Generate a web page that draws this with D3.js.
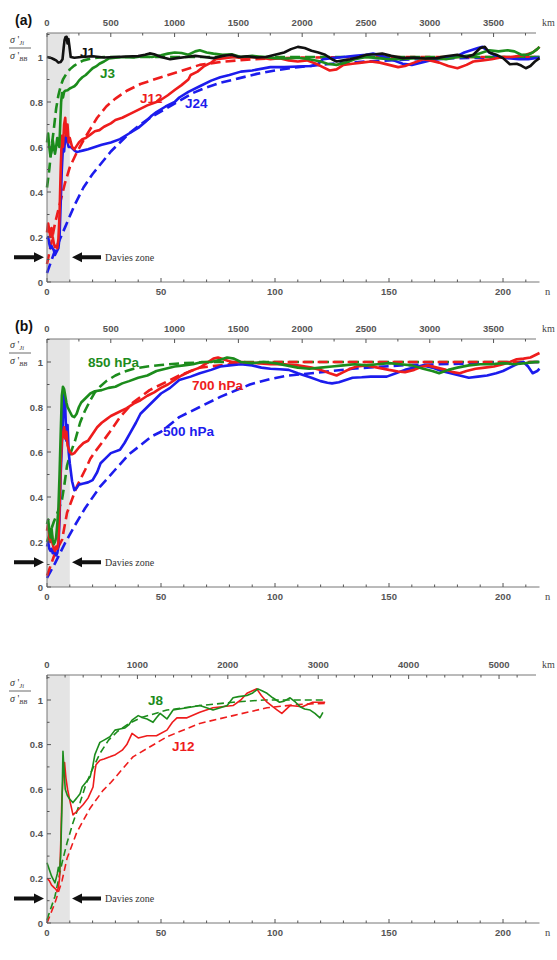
<!DOCTYPE html>
<html>
<head>
<meta charset="utf-8">
<script src="https://d3js.org/d3.v7.min.js"></script>
<style>
  body { margin: 0; background: #fff; }
  svg text { font-family: "Liberation Sans", Arial, sans-serif; }
</style>
</head>
<body>
<script>
// ---- data: [n, sigma ratio] ----

// panel (a)
var aJ1 = [[0,1.0],[1,0.998],[2,0.995],[3,0.99],[4,0.985],[5,0.975],[6,0.978],[6.8,0.99],[7.3,1.04],[7.7,1.075],[8.1,1.088],[8.6,1.09],[9,1.06],[9.4,1.08],[9.8,1.05],[10.4,1.0],[12,0.997],[15,1.0],[20,1.003],[25,0.998],[30,1.0],[35,1.002],[40,1.004],[43,1.01],[45,1.016],[47,1.012],[50,1.0],[54,0.99],[57,0.995],[61,1.0],[65,1.005],[69,1.0],[73,0.995],[77,1.005],[81,1.01],[84,1.0],[88,1.003],[92,0.998],[96,1.0],[100,1.01],[104,1.02],[107,1.035],[110,1.045],[113,1.04],[116,1.028],[119,1.02],[122,1.01],[125,0.99],[127,0.98],[130,0.985],[133,0.99],[137,1.0],[140,1.01],[144,1.012],[147,1.015],[151,1.005],[156,0.995],[161,0.998],[166,0.993],[171,0.995],[175,1.003],[180,1.01],[184,1.0],[187,1.01],[190,1.04],[192,1.045],[194,1.02],[197,1.01],[200,0.995],[203,0.968],[206,0.97],[208,0.962],[210,0.95],[212,0.96],[214,0.98],[216,0.995]];
var aJ3 = [[0,0.62],[0.5,0.66],[1,0.6],[1.5,0.56],[2,0.58],[2.5,0.63],[3,0.6],[3.5,0.57],[4,0.6],[4.5,0.64],[5,0.62],[5.4,0.6],[5.8,0.7],[6.2,0.8],[6.6,0.84],[7,0.82],[7.5,0.845],[8,0.85],[9,0.852],[10,0.86],[11,0.865],[12,0.87],[13,0.88],[14,0.895],[15.5,0.91],[17,0.92],[18.5,0.935],[20,0.95],[21.5,0.958],[23,0.97],[25,0.98],[27,0.993],[30,0.997],[34,1.0],[38,0.998],[42,1.003],[46,1.0],[50,1.008],[53,1.015],[56,1.02],[59,1.018],[62,1.01],[65,1.025],[67,1.03],[70,1.02],[73,1.015],[77,1.01],[81,1.012],[85,1.0],[90,1.005],[95,1.0],[100,0.995],[105,0.993],[110,0.997],[115,0.99],[120,0.98],[123,0.97],[127,0.965],[131,0.975],[135,0.99],[140,1.0],[145,0.995],[150,0.99],[155,0.99],[160,0.993],[165,0.995],[170,0.995],[175,0.99],[180,1.0],[184,1.005],[188,1.01],[191,1.02],[194,1.03],[198,1.025],[202,1.03],[205,1.025],[208,1.01],[211,1.01],[213,1.02],[215,1.035],[216,1.045]];
var aJ3fit = [[0,0.42],[1,0.5],[2,0.6],[3,0.68],[4,0.77],[5,0.83],[6,0.87],[7,0.9],[8.5,0.925],[10,0.945],[12,0.962],[14,0.975],[16,0.985],[20,0.995],[25,1.0],[216,1.0]];
var aJ12 = [[0,0.22],[0.5,0.26],[1,0.23],[1.5,0.2],[2,0.24],[2.5,0.2],[3,0.17],[3.5,0.155],[4,0.16],[4.5,0.15],[5,0.19],[5.5,0.3],[6,0.5],[6.5,0.65],[7,0.6],[7.5,0.7],[8,0.73],[8.5,0.65],[9,0.7],[9.5,0.62],[10,0.64],[11,0.6],[12,0.59],[13,0.605],[14,0.62],[15.5,0.635],[17,0.64],[19,0.655],[21,0.67],[23,0.675],[25,0.69],[28,0.705],[30,0.72],[33,0.73],[36,0.745],[40,0.765],[44,0.785],[48,0.8],[50,0.81],[53,0.83],[56,0.853],[59,0.875],[62,0.9],[63,0.92],[66,0.935],[69,0.96],[72,0.975],[74,0.99],[78,0.995],[82,1.0],[86,0.995],[90,1.0],[94,0.997],[98,0.99],[102,0.995],[106,0.985],[110,0.98],[114,0.985],[118,0.97],[121,0.955],[124,0.94],[127,0.945],[130,0.965],[134,0.97],[138,0.975],[142,0.98],[146,0.975],[150,0.965],[154,0.955],[157,0.96],[161,0.975],[165,0.99],[168,0.985],[172,0.975],[176,0.96],[180,0.95],[184,0.965],[187,0.98],[191,0.985],[195,0.99],[200,1.0],[204,1.0],[207,1.005],[210,1.01],[213,1.02],[215,1.035],[216,1.045]];
var aJ12fit = [[0,0.08],[2,0.18],[3.5,0.26],[5.7,0.35],[7.9,0.44],[10,0.51],[13,0.575],[16,0.63],[19,0.68],[22,0.73],[26,0.78],[30,0.815],[35,0.85],[41,0.88],[50,0.91],[58,0.935],[67,0.965],[78,0.98],[90,0.99],[110,0.997],[140,1.0],[216,1.0]];
var aJ24 = [[0,0.19],[0.5,0.2],[1,0.17],[1.5,0.15],[2,0.16],[3,0.14],[3.5,0.12],[4,0.13],[5,0.15],[5.5,0.2],[6,0.35],[6.5,0.5],[7,0.6],[7.5,0.58],[8,0.64],[8.5,0.66],[9,0.62],[9.5,0.6],[10.5,0.6],[12,0.585],[13,0.578],[14,0.58],[16,0.585],[18,0.59],[21,0.6],[24,0.61],[28,0.62],[32,0.635],[36,0.66],[40,0.685],[43,0.71],[46,0.74],[48,0.755],[52,0.78],[56,0.8],[58,0.82],[62,0.845],[67,0.87],[72,0.895],[76,0.91],[80,0.92],[85,0.935],[90,0.94],[98,0.955],[104,0.955],[110,0.958],[116,0.96],[119,0.97],[121,0.99],[125,0.995],[130,1.0],[135,1.005],[140,1.01],[143,1.015],[147,1.005],[152,0.985],[156,0.97],[160,0.965],[164,0.975],[168,0.985],[172,0.99],[176,0.995],[180,1.005],[183,1.02],[186,1.03],[189,1.04],[191,1.045],[194,1.02],[198,1.0],[202,0.995],[207,0.99],[211,0.99],[214,0.995],[216,0.995]];
var aJ24fit = [[0,0.04],[3.5,0.14],[8,0.245],[12,0.34],[16,0.42],[20,0.48],[24,0.53],[28,0.58],[32,0.62],[36,0.66],[41,0.7],[46,0.735],[52,0.77],[58,0.805],[64,0.84],[70,0.865],[76,0.885],[84,0.905],[92,0.925],[100,0.94],[110,0.955],[125,0.97],[140,0.98],[160,0.99],[185,0.996],[216,1.0]];

// panel (b)
var b850 = [[0,0.28],[0.5,0.3],[1,0.25],[1.5,0.22],[2,0.26],[2.5,0.21],[3,0.19],[3.5,0.2],[4,0.22],[4.5,0.28],[5,0.35],[5.5,0.5],[6,0.68],[6.5,0.85],[7,0.89],[7.5,0.88],[8,0.85],[8.5,0.82],[9,0.8],[10,0.78],[11,0.76],[12,0.755],[13,0.77],[14,0.8],[15,0.82],[17,0.84],[19,0.86],[21,0.87],[24,0.875],[27,0.885],[30,0.89],[33,0.905],[36,0.915],[40,0.93],[44,0.94],[48,0.96],[52,0.97],[56,0.98],[60,0.985],[64,0.99],[68,1.0],[72,1.0],[76,1.01],[79,1.02],[82,1.015],[85,1.0],[90,0.995],[95,1.0],[100,0.995],[105,0.985],[110,0.975],[115,0.97],[120,0.975],[125,0.98],[130,0.985],[135,0.99],[140,0.985],[145,0.99],[150,0.995],[155,0.99],[160,0.985],[165,0.97],[169,0.96],[172,0.95],[176,0.965],[180,0.975],[185,0.985],[190,0.99],[195,0.99],[200,0.995],[205,0.99],[210,0.995],[214,1.0],[216,1.0]];
var b850fit = [[0,0.2],[1.3,0.24],[3,0.29],[5,0.34],[6.6,0.39],[7.7,0.46],[8.8,0.54],[10.5,0.6],[12.3,0.65],[14.5,0.73],[16.5,0.78],[19,0.83],[21,0.865],[23.2,0.89],[26,0.915],[30,0.94],[34,0.958],[38,0.97],[44,0.98],[50,0.987],[60,0.995],[72,1.0],[216,1.0]];
var b700 = [[0,0.25],[0.5,0.28],[1,0.22],[1.5,0.2],[2,0.24],[2.5,0.19],[3,0.17],[3.5,0.16],[4,0.18],[4.5,0.17],[5,0.2],[5.5,0.35],[6,0.55],[6.5,0.65],[7,0.68],[7.5,0.71],[8,0.66],[8.5,0.69],[9,0.63],[10,0.6],[11,0.59],[12,0.595],[14,0.62],[16,0.64],[18,0.65],[20,0.68],[22,0.71],[24,0.73],[26,0.745],[28,0.76],[30,0.77],[32,0.78],[35,0.795],[38,0.815],[41,0.83],[44,0.85],[47,0.865],[50,0.885],[53,0.9],[56,0.92],[59,0.94],[63,0.96],[67,0.975],[70,0.995],[73,1.015],[75,1.02],[78,1.01],[81,1.0],[86,1.0],[92,0.995],[98,0.99],[104,0.99],[110,0.985],[116,0.975],[120,0.965],[124,0.95],[127,0.94],[130,0.955],[133,0.97],[136,0.98],[140,0.985],[145,0.975],[150,0.965],[154,0.958],[157,0.955],[161,0.965],[164,0.978],[167,0.985],[171,0.975],[175,0.965],[178,0.955],[181,0.95],[184,0.96],[188,0.97],[192,0.975],[196,0.98],[200,0.99],[203,1.0],[206,1.012],[209,1.015],[212,1.02],[214,1.03],[216,1.04]];
var b700fit = [[0,0.05],[3.5,0.15],[6.6,0.21],[8.8,0.33],[13,0.445],[16.7,0.52],[19,0.57],[21,0.6],[24,0.64],[27.6,0.69],[32,0.755],[37.7,0.82],[45,0.875],[58,0.94],[67,0.975],[80,0.99],[100,1.0],[216,1.0]];
var b500 = [[0,0.18],[0.5,0.2],[1,0.17],[1.5,0.16],[2,0.17],[2.5,0.15],[3,0.16],[3.5,0.15],[4,0.14],[4.5,0.15],[5,0.18],[5.5,0.3],[6,0.5],[6.5,0.62],[7,0.75],[7.5,0.86],[8,0.8],[8.5,0.65],[9,0.72],[9.5,0.6],[10,0.55],[11,0.47],[12,0.43],[13,0.44],[14,0.455],[16,0.46],[18,0.465],[20,0.475],[22,0.51],[23.5,0.55],[26,0.575],[28,0.595],[32,0.61],[34,0.64],[36.5,0.685],[39,0.73],[41,0.77],[44,0.8],[47,0.83],[50,0.86],[54,0.885],[58,0.92],[63,0.935],[67,0.95],[72,0.965],[76,0.98],[80,0.985],[85,0.99],[90,0.985],[94,0.975],[98,0.97],[102,0.968],[106,0.965],[110,0.95],[113,0.94],[116,0.93],[120,0.915],[123,0.908],[125,0.905],[128,0.91],[131,0.92],[134,0.93],[138,0.932],[142,0.935],[146,0.935],[149,0.935],[153,0.95],[157,0.965],[161,0.975],[165,0.985],[169,0.975],[173,0.96],[177,0.95],[181,0.94],[185,0.93],[189,0.935],[193,0.94],[197,0.95],[200,0.96],[203,0.975],[205,0.985],[207,0.995],[209,1.0],[211,0.98],[213,0.95],[215,0.96],[216,0.97]];
var b500fit = [[0,0.04],[3.5,0.105],[7.9,0.195],[12.3,0.275],[16.7,0.35],[23.2,0.445],[29.8,0.52],[36,0.59],[41,0.63],[46,0.67],[50,0.69],[58,0.755],[67,0.8],[76,0.845],[89,0.9],[98,0.925],[106,0.94],[116,0.95],[134,0.97],[155,0.985],[190,0.995],[216,1.0]];

// panel (c)
var cJ8 = [[0,0.27],[1,0.24],[2,0.21],[3,0.19],[3.5,0.18],[4,0.2],[4.5,0.22],[5,0.25],[5.5,0.23],[6,0.3],[6.5,0.5],[7,0.77],[7.5,0.68],[8,0.6],[9,0.57],[10,0.555],[11.4,0.54],[13,0.56],[14.5,0.58],[15.4,0.61],[17,0.63],[18.9,0.655],[20,0.7],[21,0.755],[22,0.78],[23.2,0.81],[25,0.82],[27.6,0.835],[29.8,0.865],[32,0.87],[34.2,0.875],[36,0.89],[37.3,0.91],[40,0.93],[42,0.92],[43.9,0.915],[46.5,0.9],[48,0.92],[49.6,0.94],[52.6,0.915],[55.3,0.955],[58,0.96],[61.4,0.965],[64,0.97],[67,0.975],[70,0.965],[72.8,0.955],[76,0.965],[79,0.975],[81.6,1.01],[84,1.015],[87.7,1.02],[90,1.03],[92.5,1.05],[94.5,1.04],[96.5,1.03],[99,1.01],[102,0.99],[104,0.995],[106.6,1.01],[109,0.99],[111,0.97],[113,0.96],[115.4,0.955],[117.5,0.94],[119.7,0.92],[121,0.945]];
var cJ8fit = [[0,0.015],[3.5,0.12],[6.6,0.27],[8.8,0.36],[11.4,0.45],[14.5,0.54],[17,0.62],[19.5,0.68],[23.2,0.76],[27,0.82],[31,0.86],[36,0.895],[41,0.92],[52.6,0.955],[67,0.975],[81.6,0.99],[95,1.0],[122,1.0]];
var cJ12 = [[0,0.2],[1,0.19],[2,0.17],[3,0.16],[4,0.15],[4.4,0.14],[5,0.16],[5.5,0.2],[6,0.35],[6.5,0.55],[7,0.65],[7.7,0.72],[8.3,0.65],[9,0.6],[10,0.55],[11.4,0.485],[13,0.5],[15.8,0.53],[18,0.56],[20.2,0.61],[21,0.68],[21.5,0.71],[23.2,0.73],[25,0.735],[27.6,0.745],[30,0.755],[33,0.775],[35,0.8],[37.3,0.85],[40,0.83],[43.9,0.84],[48,0.84],[52.6,0.865],[55,0.9],[57,0.92],[61.4,0.92],[67,0.945],[72.8,0.965],[81.6,0.975],[85,1.0],[87.7,1.03],[92,1.05],[94,1.02],[96.5,0.99],[99,0.97],[101,0.955],[103,0.94],[106.6,0.975],[112,0.97],[116.5,0.99],[122,0.99]];
var cJ12fit = [[0,0.0],[3.5,0.09],[6.6,0.19],[8.8,0.29],[13,0.405],[18.9,0.515],[24.6,0.595],[28,0.63],[37.7,0.745],[52.6,0.835],[67,0.895],[81.6,0.93],[96.5,0.965],[110,0.98],[122,0.985]];

// axis ticks
var nTicks = d3.range(0, 211, 10);
var nLabels = [0, 50, 100, 150, 200];
var yLabels = [0, 0.2, 0.4, 0.6, 0.8, 1];
var yMinor = d3.range(0, 1.11, 0.1);
var kmTicksAB = d3.range(0, 3751, 250);
var kmLabelsAB = [0, 500, 1000, 1500, 2000, 2500, 3000, 3500];
var kmTicksC = d3.range(0, 5201, 200);
var kmLabelsC = [0, 1000, 2000, 3000, 4000, 5000];

var GREEN = "#1c8c1c", RED = "#ee1c1c", BLUE = "#1c1ced", BLACK = "#111";

var panels = [
  { tag: "(a)", top: 33, zero: 282, one: 57, kmPerN: 17.87, kmTicks: kmTicksAB, kmLabels: kmLabelsAB, lw: 2.6, dash: "10,5",
    series: [[aJ24fit, BLUE, 1], [aJ12fit, RED, 1], [aJ3fit, GREEN, 1], [aJ24, BLUE, 0], [aJ12, RED, 0], [aJ3, GREEN, 0], [aJ1, BLACK, 0]],
    names: [["J1", BLACK, 80, 57], ["J3", GREEN, 100, 78], ["J12", RED, 140, 103], ["J24", BLUE, 185, 108]] },
  { tag: "(b)", top: 339, zero: 587, one: 362, kmPerN: 17.87, kmTicks: kmTicksAB, kmLabels: kmLabelsAB, lw: 2.6, dash: "10,5",
    series: [[b850fit, GREEN, 1], [b500fit, BLUE, 1], [b700fit, RED, 1], [b500, BLUE, 0], [b700, RED, 0], [b850, GREEN, 0]],
    names: [["850 hPa", GREEN, 88, 367], ["700 hPa", RED, 192, 390], ["500 hPa", BLUE, 163, 436]] },
  { tag: "", top: 675, zero: 923, one: 700, kmPerN: 25.22, kmTicks: kmTicksC, kmLabels: kmLabelsC, lw: 1.6, dash: "7,4",
    series: [[cJ12fit, RED, 1], [cJ8fit, GREEN, 1], [cJ12, RED, 0], [cJ8, GREEN, 0]],
    names: [["J8", GREEN, 148, 705], ["J12", RED, 172, 751]] }
];

var svg = d3.select("body").append("svg")
  .attr("width", 557).attr("height", 960)
  .style("background", "#fff");

var x = d3.scaleLinear().domain([0, 216]).range([47, 539.5]);
var AX = "#777", TXT = "#555";

panels.forEach(function(p) {
  var y = d3.scaleLinear().domain([0, 1]).range([p.zero, p.one]);
  var g = svg.append("g");
  var vTop = y.invert(p.top);

  // Davies zone shading
  g.append("rect")
    .attr("x", x(0)).attr("y", p.top)
    .attr("width", x(10) - x(0)).attr("height", p.zero - p.top)
    .attr("fill", "#e4e4e4");

  // lines
  var line = d3.line().x(function(d) { return x(d[0]); }).y(function(d) { return y(d[1]); });
  p.series.forEach(function(s) {
    g.append("path")
      .datum(s[0])
      .attr("d", line)
      .attr("fill", "none")
      .attr("stroke", s[1])
      .attr("stroke-width", p.lw)
      .attr("stroke-linejoin", "round")
      .attr("stroke-dasharray", s[2] ? p.dash : null);
  });

  // bottom axis
  g.append("line").attr("x1", x(0)).attr("x2", x(216)).attr("y1", y(0)).attr("y2", y(0))
    .attr("stroke", AX).attr("stroke-width", 1);
  nTicks.forEach(function(t) {
    var big = t % 50 === 0;
    g.append("line").attr("x1", x(t)).attr("x2", x(t))
      .attr("y1", y(0)).attr("y2", y(0) - (big ? 4 : 2.5))
      .attr("stroke", "#555").attr("stroke-width", 1);
  });
  nLabels.forEach(function(t) {
    g.append("text").attr("x", x(t)).attr("y", y(0) + 13)
      .attr("text-anchor", "middle").attr("font-size", 9.5).attr("font-weight", "bold")
      .attr("fill", TXT).text(t);
  });
  g.append("text").attr("x", 545).attr("y", y(0) + 13)
    .style("font-family", "'Liberation Serif', serif").attr("font-size", 10.5).attr("fill", "#444").text("n");

  // top km axis
  var km = d3.scaleLinear().domain([0, 216 * p.kmPerN]).range([x(0), x(216)]);
  g.append("line").attr("x1", x(0)).attr("x2", 536).attr("y1", p.top).attr("y2", p.top)
    .attr("stroke", AX).attr("stroke-width", 1);
  p.kmTicks.forEach(function(t) {
    var big = p.kmLabels.indexOf(t) >= 0;
    g.append("line").attr("x1", km(t)).attr("x2", km(t))
      .attr("y1", p.top).attr("y2", p.top + (big ? 4 : 2.5))
      .attr("stroke", "#555").attr("stroke-width", 1);
  });
  p.kmLabels.forEach(function(t) {
    g.append("text").attr("x", km(t)).attr("y", p.top - 7)
      .attr("text-anchor", "middle").attr("font-size", 9.5).attr("font-weight", "bold")
      .attr("fill", TXT).text(t);
  });
  g.append("text").attr("x", 542).attr("y", p.top - 7)
    .style("font-family", "'Liberation Serif', serif").attr("font-size", 10).attr("fill", "#444").text("km");

  // left axis
  g.append("line").attr("x1", x(0)).attr("x2", x(0)).attr("y1", p.top).attr("y2", y(0))
    .attr("stroke", AX).attr("stroke-width", 1);
  yMinor.forEach(function(t) {
    if (t > vTop) return;
    var big = Math.abs(t * 5 - Math.round(t * 5)) < 1e-6;
    g.append("line").attr("x1", x(0)).attr("x2", x(0) + (big ? 4 : 2.5))
      .attr("y1", y(t)).attr("y2", y(t)).attr("stroke", "#555").attr("stroke-width", 1);
  });
  yLabels.forEach(function(t) {
    g.append("text").attr("x", 43).attr("y", y(t) + 3.5)
      .attr("text-anchor", "end").attr("font-size", 9.5).attr("font-weight", "bold")
      .attr("fill", TXT).text(t);
  });

  // y label as a fraction
  var fy = y(1);
  var num = g.append("text").attr("x", 10).attr("y", fy - 14).attr("font-size", 10)
    .style("font-family", "'Liberation Serif', serif").attr("fill", "#333");
  num.append("tspan").attr("font-style", "italic").text("σ");
  num.append("tspan").text(" '");
  num.append("tspan").attr("font-size", 6.5).attr("font-style", "italic").attr("dy", 2).text("Ji");
  g.append("line").attr("x1", 9).attr("x2", 31).attr("y1", fy - 9).attr("y2", fy - 9)
    .attr("stroke", "#444").attr("stroke-width", 0.8);
  var den = g.append("text").attr("x", 10).attr("y", fy + 2).attr("font-size", 10)
    .style("font-family", "'Liberation Serif', serif").attr("fill", "#333");
  den.append("tspan").attr("font-style", "italic").text("σ");
  den.append("tspan").text(" '");
  den.append("tspan").attr("font-size", 6.5).attr("font-style", "italic").attr("dy", 2).text("BB");

  // panel tag
  if (p.tag) {
    g.append("text").attr("x", 15).attr("y", p.top - 8).attr("font-size", 14)
      .attr("font-weight", "bold").attr("fill", "#111").text(p.tag);
  }

  // series names
  p.names.forEach(function(s) {
    g.append("text").attr("x", s[2]).attr("y", s[3]).attr("font-size", 13.5)
      .attr("font-weight", "bold").attr("fill", s[1]).text(s[0]);
  });

  // Davies zone arrows
  var ay = y(0.11);
  g.append("path")
    .attr("d", "M14," + (ay - 2) + "H34V" + (ay - 5) + "L44," + ay + "L34," + (ay + 5) + "V" + (ay + 2) + "H14Z")
    .attr("fill", "#111");
  g.append("path")
    .attr("d", "M101," + (ay - 2) + "H82V" + (ay - 5) + "L72," + ay + "L82," + (ay + 5) + "V" + (ay + 2) + "H101Z")
    .attr("fill", "#111");
  g.append("text").attr("x", 105).attr("y", ay + 3.5).attr("font-size", 10)
    .style("font-family", "'Liberation Serif', serif").attr("fill", "#333").text("Davies zone");
});
</script>
</body>
</html>
